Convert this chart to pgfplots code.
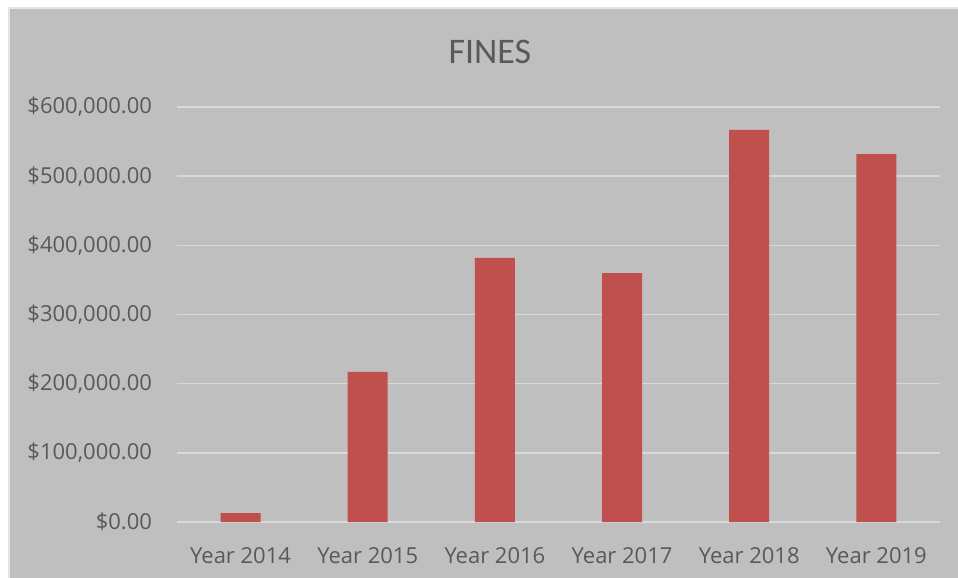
\documentclass[border=0pt]{standalone}
\usepackage{pgfplots}
\pgfplotsset{compat=1.18}
\usepackage{fontspec}
\setmainfont{Open Sans}
\newfontfamily\titlefont{Carlito}
\definecolor{bgray}{HTML}{BFBFBF}
\definecolor{txt}{HTML}{595959}
\definecolor{barred}{HTML}{C0504D}
\definecolor{gridc}{HTML}{D9D9D9}

\begin{document}
% 1 px of the reference = 0.5pt
\begin{tikzpicture}
\path[use as bounding box] (-88.5pt,-28pt) rectangle (390.5pt,261pt);
\fill[white] (-88.5pt,-28pt) rectangle (390.5pt,261pt);
\fill[gridc!70!white] (-84.5pt,-28pt) rectangle (390.5pt,257.5pt);
\fill[bgray] (-83.5pt,-28pt) rectangle (390.5pt,256.5pt);
\begin{axis}[
  scale only axis, width=381.5pt, height=207.5pt,
  at={(0,0)}, anchor=south west,
  xmin=-0.5, xmax=5.5, ymin=0, ymax=600000,
  axis line style={draw=none},
  tick style={draw=none},
  scaled y ticks=false,
  ymajorgrids, grid style={gridc, line width=0.75pt},
  xtick=data,
  xticklabels={Year 2014,Year 2015,Year 2016,Year 2017,Year 2018,Year 2019},
  ytick={0,100000,200000,300000,400000,500000,600000},
  yticklabels={{\$0.00},{\$100,000.00},{\$200,000.00},{\$300,000.00},{\$400,000.00},{\$500,000.00},{\$600,000.00}},
  ticklabel style={font=\fontsize{11pt}{12pt}\selectfont, text=txt},
  yticklabel style={xshift=-9pt},
  xticklabel style={yshift=-5pt},
  ybar, bar width=20pt,
  title={\titlefont FINES},
  title style={font=\fontsize{18pt}{20pt}\selectfont, text=txt, at={(0.41,1)}, anchor=south, yshift=12pt},
]
\addplot[fill=barred, draw=none] coordinates {
  (0,13000) (1,217000) (2,382000) (3,360000) (4,567000) (5,532000)
};
\end{axis}
\end{tikzpicture}
\end{document}
